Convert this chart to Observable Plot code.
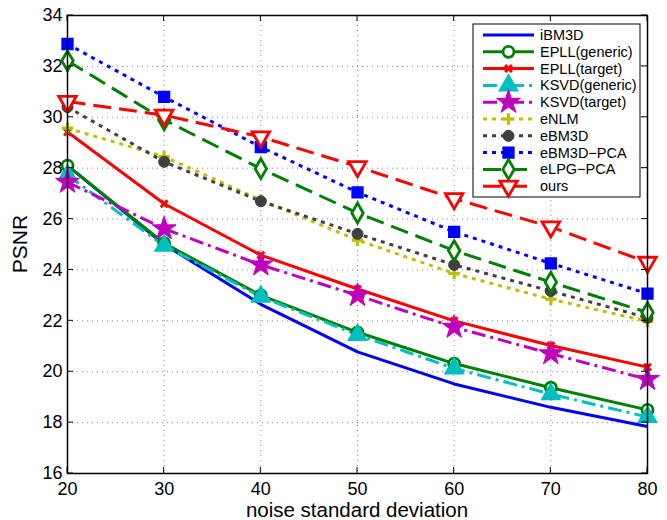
<!DOCTYPE html>
<html>
<head>
<meta charset="utf-8">
<script src="https://cdn.jsdelivr.net/npm/d3@7"></script>
<script src="https://cdn.jsdelivr.net/npm/@observablehq/plot@0.6"></script>
<style>
  html, body { margin: 0; padding: 0; background: white; }
  #chart { width: 667px; height: 520px; }
</style>
</head>
<body>
<div id="chart"></div>
<script>
// ---- data ----
const noiseLevels = [20, 30, 40, 50, 60, 70, 80];
const xTicks = [20, 30, 40, 50, 60, 70, 80];
const yTicks = [16, 18, 20, 22, 24, 26, 28, 30, 32, 34];

const seriesNames = ["iBM3D", "EPLL(generic)", "EPLL(target)", "KSVD(generic)", "KSVD(target)",
                     "eNLM", "eBM3D", "eBM3D\u2212PCA", "eLPG\u2212PCA", "ours"];

const iBM3D        = [28.10, 25.00, 22.65, 20.78, 19.52, 18.60, 17.85];
const epllGeneric  = [28.10, 25.05, 23.00, 21.55, 20.32, 19.37, 18.50];
const epllTarget   = [29.42, 26.60, 24.58, 23.25, 22.00, 21.03, 20.18];
const ksvdGeneric  = [27.72, 24.95, 22.95, 21.45, 20.13, 19.12, 18.22];
const ksvdTarget   = [27.45, 25.62, 24.20, 23.00, 21.75, 20.71, 19.70];
const eNLM         = [29.57, 28.45, 26.75, 25.17, 23.86, 22.85, 21.98];
const eBM3D        = [30.40, 28.25, 26.70, 25.42, 24.20, 23.17, 22.12];
const eBM3DPCA     = [32.88, 30.80, 28.83, 27.05, 25.50, 24.26, 23.07];
const eLPGPCA      = [32.22, 29.90, 27.98, 26.24, 24.76, 23.52, 22.33];
const ours         = [30.62, 30.08, 29.23, 28.06, 26.80, 25.69, 24.30];

const seriesValues = [iBM3D, epllGeneric, epllTarget, ksvdGeneric, ksvdTarget,
                      eNLM, eBM3D, eBM3DPCA, eLPGPCA, ours];

// ---- styles ----
const DASHED = "18,8", DOTTED = "4,5", DASHDOT = "14,5,3,5";
const styles = [
  {color: "#0000ff", dash: null,    symbol: null,       fill: "none",    r: 0,   sw: 3,   rotate: 0},
  {color: "#008000", dash: null,    symbol: "circle",   fill: "white",   r: 5.5, sw: 2.8, rotate: 0},
  {color: "#ff0000", dash: null,    symbol: "times",    fill: "none",    r: 3.2, sw: 3,   rotate: 0},
  {color: "#00bfbf", dash: DASHDOT, symbol: "triangle", fill: "#00bfbf", r: 6.5, sw: 2,   rotate: 0},
  {color: "#bf00bf", dash: DASHDOT, symbol: "star",     fill: "#bf00bf", r: 7.5, sw: 1,   rotate: 0},
  {color: "#bfbf00", dash: DOTTED,  symbol: "plus",     fill: "none",    r: 3.8, sw: 3.2, rotate: 0},
  {color: "#404040", dash: DOTTED,  symbol: "circle",   fill: "#404040", r: 5.5, sw: 1,   rotate: 0},
  {color: "#0000ff", dash: DOTTED,  symbol: "square",   fill: "#0000ff", r: 5.8, sw: 2,   rotate: 0},
  {color: "#008000", dash: DASHED,  symbol: "diamond",  fill: "white",   r: 6.0, sw: 2.8, rotate: 0},
  {color: "#ff0000", dash: DASHED,  symbol: "triangle", fill: "white",   r: 6.5, sw: 2.8, rotate: 180}
];

const rows = [];
seriesNames.forEach((name, i) => {
  noiseLevels.forEach((x, j) => rows.push({name, x, y: seriesValues[i][j]}));
});

const lineMarks = [];
const dotMarks = [];
seriesNames.forEach((name, i) => {
  const s = styles[i];
  const d = rows.filter(r => r.name === name);
  lineMarks.push(Plot.line(d, {
    x: "x", y: "y", stroke: s.color, strokeWidth: 3,
    strokeDasharray: s.dash, strokeLinecap: "butt", strokeLinejoin: "round"
  }));
  if (s.symbol) {
    dotMarks.push(Plot.dot(d, {
      x: "x", y: "y", symbol: s.symbol, r: s.r, stroke: s.color,
      fill: s.fill, strokeWidth: s.sw, rotate: s.rotate
    }));
  }
});

const W = 667, H = 520, ML = 67, MR = 20, MT = 15, MB = 47;
const FONT = "'Liberation Sans', Arial, Helvetica, sans-serif";

const svg = Plot.plot({
  width: W, height: H,
  marginLeft: ML, marginRight: MR, marginTop: MT, marginBottom: MB,
  style: {fontFamily: FONT, fontSize: "18px", background: "white", color: "black"},
  x: {domain: [20, 80]},
  y: {domain: [16, 34]},
  marks: [
    Plot.gridX(xTicks, {stroke: "#888", strokeOpacity: 1, strokeWidth: 1, strokeDasharray: "1,4"}),
    Plot.gridY(yTicks, {stroke: "#888", strokeOpacity: 1, strokeWidth: 1, strokeDasharray: "1,4"}),
    Plot.axisX(xTicks, {tickSize: 0, tickPadding: 9, label: null, fill: "black"}),
    Plot.axisY(yTicks, {tickSize: 0, tickPadding: 5, label: null, fill: "black"}),
    ...lineMarks,
    ...dotMarks,
    Plot.frame({stroke: "black", strokeWidth: 1.5})
  ]
});

// inward ticks on all four sides, axis titles, legend
const sx = svg.scale("x"), sy = svg.scale("y");
const root = d3.select(svg);
const tk = root.append("g").attr("stroke", "black").attr("stroke-width", 1);
const TL = 6;
xTicks.forEach(v => {
  const px = sx.apply(v);
  tk.append("line").attr("x1", px).attr("x2", px).attr("y1", H - MB).attr("y2", H - MB - TL);
  tk.append("line").attr("x1", px).attr("x2", px).attr("y1", MT).attr("y2", MT + TL);
});
yTicks.forEach(v => {
  const py = sy.apply(v);
  tk.append("line").attr("x1", ML).attr("x2", ML + TL).attr("y1", py).attr("y2", py);
  tk.append("line").attr("x1", W - MR).attr("x2", W - MR - TL).attr("y1", py).attr("y2", py);
});

root.append("text")
  .attr("x", (ML + W - MR) / 2).attr("y", 517)
  .attr("text-anchor", "middle")
  .attr("font-family", FONT).attr("font-size", 20.5).attr("fill", "black")
  .text("noise standard deviation");

root.append("text")
  .attr("transform", `translate(27, ${(MT + H - MB) / 2}) rotate(-90)`)
  .attr("text-anchor", "middle")
  .attr("font-family", FONT).attr("font-size", 21).attr("fill", "black")
  .text("PSNR");

// legend
const symMap = {
  circle: d3.symbolCircle, times: d3.symbolTimes, triangle: d3.symbolTriangle,
  star: d3.symbolStar, plus: d3.symbolPlus, square: d3.symbolSquare, diamond: d3.symbolDiamond
};
const lg = root.append("g").attr("text-anchor", "start");
lg.append("rect").attr("x", 473).attr("y", 24).attr("width", 167).attr("height", 173)
  .attr("fill", "white").attr("stroke", "black").attr("stroke-width", 1);
seriesNames.forEach((name, i) => {
  const s = styles[i];
  const cy = 35 + 16.8 * i;
  lg.append("line").attr("x1", 483).attr("x2", 534).attr("y1", cy).attr("y2", cy)
    .attr("stroke", s.color).attr("stroke-width", 3)
    .attr("stroke-dasharray", s.dash).attr("stroke-linecap", "butt");
  if (s.symbol) {
    if (s.symbol === "circle") {
      lg.append("circle").attr("cx", 508.5).attr("cy", cy).attr("r", s.r)
        .attr("fill", s.fill).attr("stroke", s.color).attr("stroke-width", s.sw);
    } else {
      lg.append("path").attr("d", d3.symbol(symMap[s.symbol], Math.PI * s.r * s.r)())
        .attr("transform", `translate(508.5,${cy}) rotate(${s.rotate})`)
        .attr("fill", s.fill).attr("stroke", s.color).attr("stroke-width", s.sw);
    }
  }
  lg.append("text").attr("x", 540).attr("y", cy).attr("dy", "0.35em")
    .attr("text-anchor", "start")
    .attr("font-family", FONT).attr("font-size", 14.5).attr("fill", "black")
    .text(name);
});

document.getElementById("chart").appendChild(svg);
</script>
</body>
</html>
